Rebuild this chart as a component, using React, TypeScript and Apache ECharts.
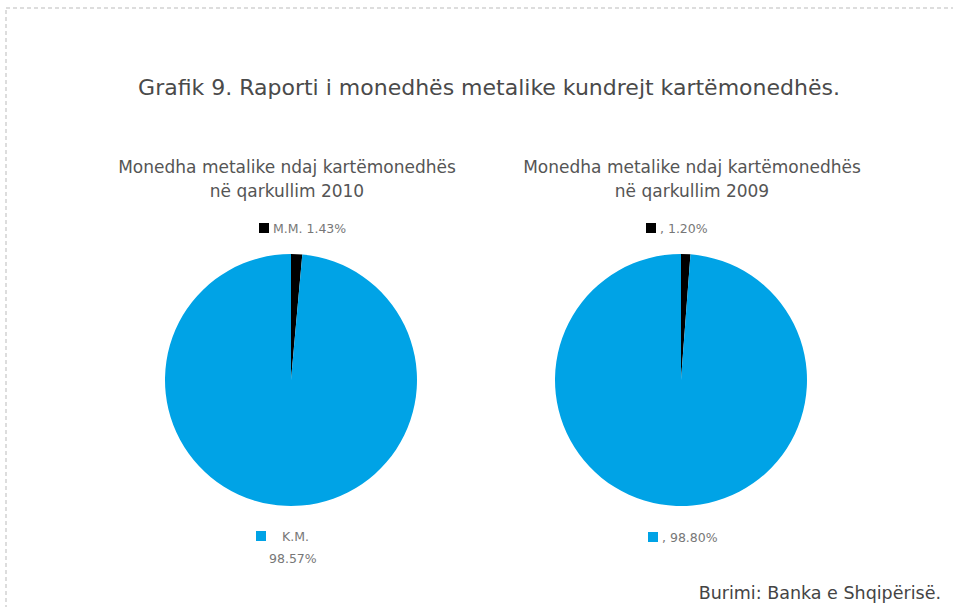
import React, { useEffect, useRef } from "react";
import * as echarts from "echarts";

const mainTitle = "Grafik 9. Raporti i monedhës metalike kundrejt kartëmonedhës.";
const subTitles = [
  "Monedha metalike ndaj kartëmonedhës\nnë qarkullim 2010",
  "Monedha metalike ndaj kartëmonedhës\nnë qarkullim 2009",
];
const sourceText = "Burimi: Banka e Shqipërisë.";

const names2010 = ["M.M.", "K.M."];
const values2010 = [1.43, 98.57];
const names2009 = ["", ""];
const values2009 = [1.2, 98.8];
const sliceColors = ["#000000", "#00A3E6"];

const FONT = "'DejaVu Sans', sans-serif";

// label positions (style only)
const labelPos = [
  [
    { x: 259, y: 228 },
    { x: 256, y: 547 },
  ],
  [
    { x: 646, y: 228 },
    { x: 648, y: 537 },
  ],
];

export default function App() {
  const ref = useRef<HTMLDivElement>(null);
  useEffect(() => {
    if (!ref.current) return;
    const chart = echarts.init(ref.current, null, { renderer: "svg" });

    const makeData = (names: string[], values: number[]) =>
      values.map((v, i) => ({ name: names[i], value: v, itemStyle: { color: sliceColors[i] } }));

    const fmt = (seriesIdx: number) => (p: any) => {
      const pct = p.value.toFixed(2) + "%";
      const sq = p.dataIndex === 0 ? "{sqk|}" : "{sqb|}";
      if (seriesIdx === 0) {
        if (p.dataIndex === 0) return `${sq}{g4|}{t|${p.name} ${pct}}`;
        return `${sq}{g16|}{t|${p.name}}\n{g14|}{t|${pct}}`;
      }
      return `${sq}{g4|}{t|${p.name}, ${pct}}`;
    };

    const rich = {
      sqk: { width: 10, height: 10, backgroundColor: "#000" },
      sqb: { width: 10, height: 10, backgroundColor: sliceColors[1] },
      g4: { width: 4 },
      g14: { width: 13 },
      g16: { width: 16 },
      t: { fontSize: 12.5, color: "#777", fontFamily: FONT, lineHeight: 22 },
    };

    const pie = (idx: number, center: number[], data: any[]) => ({
      type: "pie",
      center,
      radius: 126,
      startAngle: 90,
      clockwise: true,
      silent: true,
      data,
      itemStyle: { borderWidth: 0 },
      label: {
        show: true,
        position: "outside",
        formatter: fmt(idx),
        rich,
        align: "left",
      },
      labelLine: { show: false },
      labelLayout: (p: any) => {
        const pos = labelPos[idx][p.dataIndex];
        return { x: pos.x, y: pos.y, align: "left", verticalAlign: "middle" };
      },
    });

    const subStyle = {
      fontSize: 17,
      fontWeight: "normal",
      color: "#555",
      fontFamily: FONT,
      lineHeight: 24,
      align: "center",
    };

    chart.setOption({
      animation: false,
      backgroundColor: "#ffffff",
      title: [
        {
          text: mainTitle,
          left: 484,
          top: 71,
          textAlign: "center",
          textStyle: { fontSize: 22, fontWeight: "normal", color: "#4a4a4a", fontFamily: FONT },
        },
        { text: subTitles[0], left: 282, top: 150, textAlign: "center", textStyle: subStyle },
        { text: subTitles[1], left: 687, top: 150, textAlign: "center", textStyle: subStyle },
        {
          text: sourceText,
          right: 7,
          top: 579,
          textStyle: { fontSize: 17.5, fontWeight: "normal", color: "#444", fontFamily: FONT },
        },
      ],
      graphic: [
        {
          type: "rect",
          shape: { x: 6, y: 8, width: 1100, height: 800 },
          style: { fill: "none", stroke: "#bbbbbb", lineWidth: 1, lineDash: [4, 3] },
          silent: true,
        },
      ],
      series: [
        pie(0, [291, 380], makeData(names2010, values2010)),
        pie(1, [681, 380], makeData(names2009, values2009)),
      ],
    });
    return () => chart.dispose();
  }, []);
  return (
    <div
      ref={ref}
      style={{ position: "absolute", left: 0, top: 0, width: 953, height: 607 }}
    />
  );
}
